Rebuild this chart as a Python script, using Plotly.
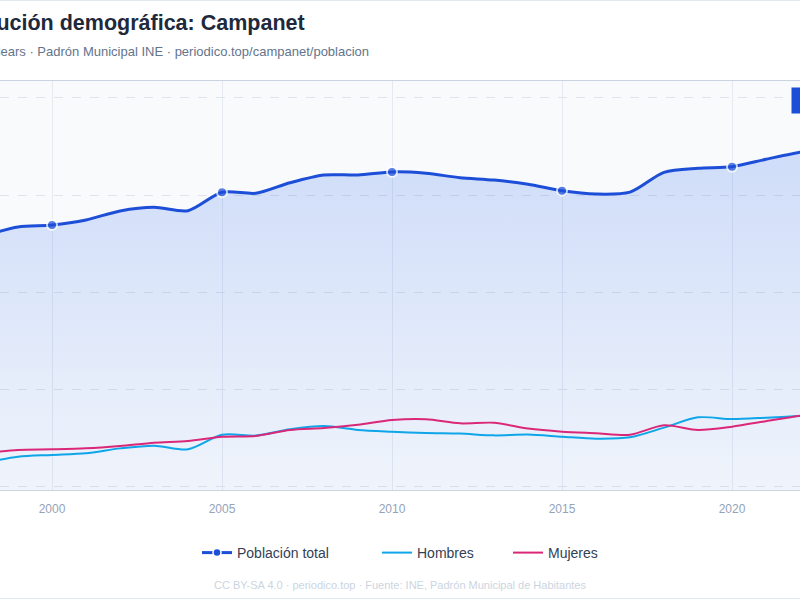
import plotly.graph_objects as go

years = list(range(1998, 2025))
total = [2289, 2335, 2345, 2371, 2418, 2437, 2419, 2514, 2509, 2563, 2603, 2603, 2619,
         2612, 2589, 2577, 2555, 2522, 2505, 2515, 2617, 2638, 2646, 2684, 2720, 2750, 2770]
hombres = [1119, 1151, 1160, 1169, 1194, 1208, 1189, 1264, 1260, 1292, 1309, 1289, 1280,
           1273, 1270, 1261, 1265, 1254, 1244, 1251, 1301, 1354, 1345, 1352, 1361, 1375, 1385]
mujeres = [1170, 1186, 1189, 1194, 1206, 1223, 1232, 1254, 1258, 1289, 1299, 1316, 1340,
           1344, 1323, 1326, 1296, 1280, 1272, 1264, 1313, 1289, 1306, 1334, 1362, 1385, 1400]
marker_years = [2000, 2005, 2010, 2015, 2020]
x_ticks = [2000, 2005, 2010, 2015, 2020]
y_ticks = [1000, 1500, 2000, 2500, 3000]

title = "Evolución demográfica: Campanet"
subtitle = "Illes Balears · Padrón Municipal INE · periodico.top/campanet/poblacion"
footer = "CC BY-SA 4.0 · periodico.top · Fuente: INE, Padrón Municipal de Habitantes"
badge = "\u00a0\u00a0\u00a0Último: 2.770 hab."

FONT = "Liberation Sans, Arial, sans-serif"
BLUE = "#1d4ed8"
CYAN = "#0ea5e9"
PINK = "#db2777"

msize = [10 if y in marker_years else 0 for y in years]

fig = go.Figure()
fig.add_trace(go.Scatter(
    x=years, y=total, name="Población total", mode="lines+markers", showlegend=False,
    line=dict(color=BLUE, width=3, shape="spline", smoothing=0.8),
    marker=dict(size=msize, color=BLUE, line=dict(color="white", width=2)),
    fill="tozeroy",
    fillgradient=dict(type="vertical", start=979, stop=2800,
                      colorscale=[[0, "rgba(37,99,235,0.04)"], [1, "rgba(37,99,235,0.20)"]]),
))
# legend entry for the total series (no marks of its own)
fig.add_trace(go.Scatter(
    x=[None], y=[None], name="Población total", mode="lines+markers", legend="legend",
    line=dict(color=BLUE, width=3),
    marker=dict(size=8, color=BLUE, line=dict(color="white", width=1.5)),
))
fig.add_trace(go.Scatter(
    x=years, y=hombres, name="Hombres", mode="lines", legend="legend2",
    line=dict(color=CYAN, width=2, shape="spline", smoothing=0.8),
))
fig.add_trace(go.Scatter(
    x=years, y=mujeres, name="Mujeres", mode="lines", legend="legend3",
    line=dict(color=PINK, width=2, shape="spline", smoothing=0.8),
))

PLOT_TOP, PLOT_BOT = 81, 490
H = PLOT_BOT - PLOT_TOP


def py(p):
    return (PLOT_BOT - p) / H


def leg(text_x):
    return dict(orientation="h", x=(text_x - 40) / 800, xanchor="left", y=py(553),
                yanchor="middle", font=dict(size=14, color="#334155", family=FONT),
                bgcolor="rgba(0,0,0,0)")


fig.update_layout(
    width=800, height=600,
    margin=dict(l=0, r=0, t=PLOT_TOP, b=600 - PLOT_BOT),
    paper_bgcolor="white", plot_bgcolor="#f8fafc",
    font=dict(family=FONT, color="#334155"),
    showlegend=True,
    legend=leg(237), legend2=leg(417), legend3=leg(548),
    xaxis=dict(range=[2000 - 52 / 34, 2000 + 748 / 34], tickvals=x_ticks,
               showgrid=True, gridcolor="#e5e9f0", gridwidth=1,
               showline=True, linecolor="#cbd5e1", mirror=True, zeroline=False,
               tickfont=dict(size=12, color="#94a3b8"), ticks="", ticklabelstandoff=8,
               automargin=False),
    yaxis=dict(range=[979.4, 3087.6], tickvals=y_ticks, showgrid=True,
               gridcolor="#dfe4ec", griddash="dash", zeroline=False, showline=False,
               showticklabels=False, automargin=False),
    annotations=[
        dict(text=title, xref="paper", yref="paper", x=-51 / 800, y=py(23),
             xanchor="left", yanchor="middle", showarrow=False,
             font=dict(size=21.5, color="#1e293b", family=FONT, weight="bold")),
        dict(text=subtitle, xref="paper", yref="paper", x=-47.5 / 800, y=py(51),
             xanchor="left", yanchor="middle", showarrow=False,
             font=dict(size=13, color="#64748b", family=FONT)),
        dict(text=footer, xref="paper", yref="paper", x=0.5, y=py(585),
             xanchor="center", yanchor="middle", showarrow=False,
             font=dict(size=11, color="#cbd5e1", family=FONT)),
        dict(text=badge, xref="paper", yref="paper", x=791 / 800, y=py(100),
             xanchor="left", yanchor="middle", showarrow=False,
             bgcolor=BLUE, borderpad=5, font=dict(size=12, color="white", family=FONT)),
    ],
    shapes=[
        dict(type="line", xref="paper", yref="paper", x0=0, x1=1, y0=py(0.5), y1=py(0.5),
             line=dict(color="#e2e8f0", width=1)),
        dict(type="line", xref="paper", yref="paper", x0=0, x1=1, y0=py(598.5), y1=py(598.5),
             line=dict(color="#e2e8f0", width=1)),
    ],
)

fig.write_html("out.html")
